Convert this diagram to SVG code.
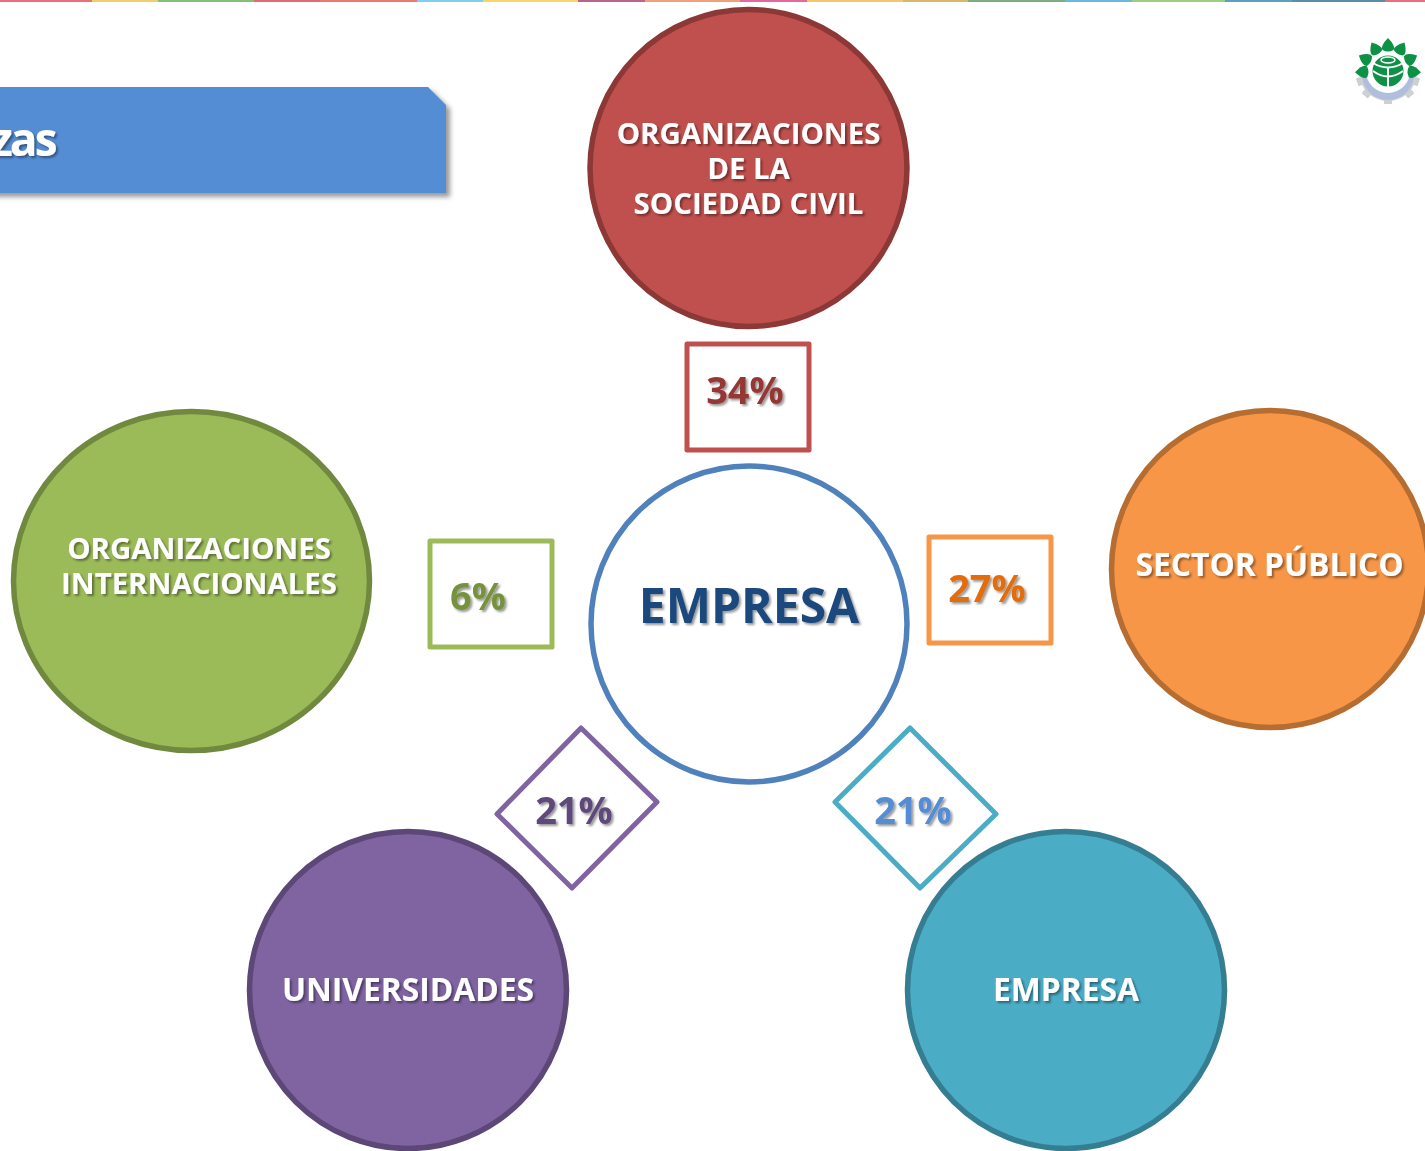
<svg xmlns="http://www.w3.org/2000/svg" width="1425" height="1151" viewBox="0 0 1425 1151">
<defs>
<filter id="ts" x="-20%" y="-20%" width="140%" height="140%"><feDropShadow dx="2" dy="2" stdDeviation="1" flood-color="#000" flood-opacity="0.4"/></filter>
<filter id="bs" x="-5%" y="-10%" width="110%" height="125%"><feDropShadow dx="4" dy="4" stdDeviation="2.5" flood-color="#000" flood-opacity="0.4"/></filter>
<filter id="soft" x="-10%" y="-10%" width="120%" height="120%"><feGaussianBlur stdDeviation="0.5"/></filter>
<path id="leaf" d="M0 -33Q8 -25 5.500 -21Q0 -18 -5.500 -21Q-8 -25 0 -33Z" fill="#0f9147"/>
</defs>
<style>
text{font-family:"Open Sans","Noto Sans","Liberation Sans",sans-serif;font-weight:700;text-anchor:middle}
.l{font-size:29.400px;fill:#fff;filter:url(#ts)}
.m{font-size:31.800px;fill:#fff;filter:url(#ts)}
.p{font-size:38px;filter:url(#ts)}
.c{stroke-width:5.500}
.b{fill:#fff;stroke-width:5;stroke-linejoin:round}
</style>
<rect width="1425" height="1151" fill="#fff"/>
<g id="topbar">
<rect x="0" y="0" width="92" height="2" fill="#e8707a"/><rect x="92" y="0" width="66" height="2" fill="#f2cd6b"/><rect x="158" y="0" width="96" height="2" fill="#84bd7c"/><rect x="254" y="0" width="66" height="2" fill="#dd6a76"/><rect x="320" y="0" width="97" height="2" fill="#ec7a74"/><rect x="417" y="0" width="66" height="2" fill="#7ed0ec"/>
<rect x="483" y="0" width="95" height="2" fill="#f6d56a"/><rect x="578" y="0" width="67" height="2" fill="#b8648c"/><rect x="645" y="0" width="95" height="2" fill="#f0a07a"/><rect x="740" y="0" width="67" height="2" fill="#e668a0"/><rect x="807" y="0" width="96" height="2" fill="#f5c670"/><rect x="903" y="0" width="65" height="2" fill="#d8b868"/><rect x="968" y="0" width="97" height="2" fill="#7cab84"/><rect x="1065" y="0" width="67" height="2" fill="#68b8e0"/><rect x="1132" y="0" width="93" height="2" fill="#9ccf84"/><rect x="1225" y="0" width="67" height="2" fill="#5c9fc0"/><rect x="1292" y="0" width="93" height="2" fill="#5a8ea6"/><rect x="1385" y="0" width="40" height="2" fill="#e8707a"/>
</g>
<g id="banner">
<path d="M-20 87H428L446 105V193H-20Z" fill="#548dd4" filter="url(#bs)"/>
<text x="54.500" y="156" style="text-anchor:end;font-size:46px;letter-spacing:-3px;fill:#fff;filter:url(#ts)">zas</text>
</g>
<g id="logo" filter="url(#soft)">
<g fill="#ccd0d2"><circle cx="1388" cy="72" r="29"/><rect x="1384" y="94" width="8" height="10"/><rect x="1364" y="88" width="8" height="9" transform="rotate(40 1368 92)"/><rect x="1404" y="88" width="8" height="9" transform="rotate(-40 1408 92)"/><rect x="1357" y="78" width="8" height="7" transform="rotate(70 1361 81)"/><rect x="1411" y="78" width="8" height="7" transform="rotate(-70 1415 81)"/></g>
<path d="M1362 74A26 26 0 0 0 1414 74Z" fill="#b0bedd"/>
<circle cx="1388" cy="71" r="22" fill="#fff"/>
<rect x="1352" y="36" width="72" height="36" fill="#fff"/>
<g transform="translate(1388 71)"><use href="#leaf"/><use href="#leaf" transform="rotate(30)"/><use href="#leaf" transform="rotate(-30)"/><use href="#leaf" transform="rotate(62)"/><use href="#leaf" transform="rotate(-62)"/><use href="#leaf" transform="rotate(92)"/><use href="#leaf" transform="rotate(-92)"/></g>
<circle cx="1388" cy="71" r="15.500" fill="#0f9147"/>
<path d="M1373 63Q1388 72 1403 63M1373 71Q1388 82 1403 71M1388 68V87" stroke="#fff" stroke-width="2" fill="none"/>
<ellipse cx="1388" cy="60" rx="7" ry="3" fill="#0f9147" stroke="#fff" stroke-width="1.500"/>
</g>
<g id="connectors"/>
<g id="n-ong"><circle cx="748.500" cy="168" r="158.500" fill="#c0504d" stroke="#8c3836" class="c"/>
<text class="l" x="748.500" y="143.500">ORGANIZACIONES</text><text class="l" x="748.500" y="178.500">DE LA</text><text class="l" x="748.500" y="213.500">SOCIEDAD CIVIL</text></g>
<g id="n-int"><ellipse cx="191.500" cy="581" rx="178" ry="169.500" fill="#9bbb59" stroke="#71893f" class="c"/>
<text class="l" x="199" y="558.500">ORGANIZACIONES</text><text class="l" x="199" y="593.500">INTERNACIONALES</text></g>
<g id="n-pub"><circle cx="1270" cy="569" r="158.500" fill="#f79646" stroke="#b66d31" class="c"/>
<text class="m" x="1269.500" y="576">SECTOR PÚBLICO</text></g>
<g id="n-uni"><circle cx="408" cy="990" r="158.500" fill="#8064a2" stroke="#5c4776" class="c"/>
<text class="m" x="408" y="1001">UNIVERSIDADES</text></g>
<g id="n-emp2"><circle cx="1066" cy="990" r="158.500" fill="#4bacc6" stroke="#357d91" class="c"/>
<text class="m" x="1066" y="1001">EMPRESA</text></g>
<g id="n-emp"><circle cx="749" cy="624" r="158" fill="#fff" stroke="#4f81bd" class="c"/>
<text x="749" y="623" style="font-size:48px;fill:#1f497d;filter:url(#ts)">EMPRESA</text></g>
<g id="p34"><rect x="687" y="344" width="122" height="106" class="b" stroke="#c0504d"/><text class="p" x="745" y="404" fill="#953735">34%</text></g>
<g id="p6"><rect x="430" y="541" width="122" height="106" class="b" stroke="#9bbb59"/><text class="p" x="478" y="609.500" fill="#76923c">6%</text></g>
<g id="p27"><rect x="929" y="537" width="122" height="106" class="b" stroke="#f79646"/><text class="p" x="987" y="602" fill="#e36c09">27%</text></g>
<g id="p21a"><path d="M581 728L657 802L572 888L497 814Z" class="b" stroke="#8064a2"/><text class="p" x="574" y="824" fill="#5f497a">21%</text></g>
<g id="p21b"><path d="M910 728L996 814L920 888L835 802Z" class="b" stroke="#4bacc6"/><text class="p" x="913" y="824" fill="#548dd4">21%</text></g>
</svg>
